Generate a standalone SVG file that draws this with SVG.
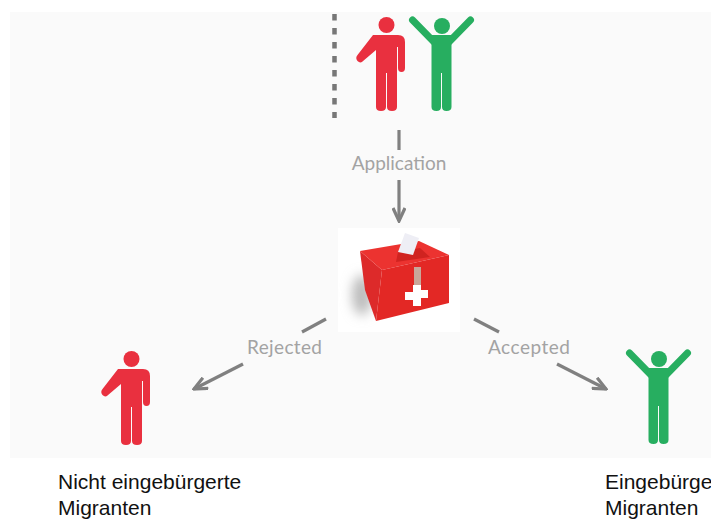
<svg xmlns="http://www.w3.org/2000/svg" width="711" height="524" viewBox="0 0 711 524">
<style>
.c{fill:none;stroke:#808080;stroke-width:3.2}
.l{font-family:Lato,"Liberation Sans",sans-serif;font-size:19px;fill:#a3a3a3;text-anchor:middle}
.t{font-family:"Liberation Sans",Arial,sans-serif;font-size:21px;fill:#111}
.r{fill:#e9303f}.g{fill:#27ae60}
.ga{fill:none;stroke:#27ae60;stroke-width:7;stroke-linecap:round}
</style>
<defs>
<marker id="a" viewBox="0 0 16 14" refX="14" refY="7" markerWidth="16" markerHeight="14" markerUnits="userSpaceOnUse" orient="auto"><path d="M1 1L14 7L1 13" fill="none" stroke="#808080" stroke-width="3.200"/></marker>
<g id="redman">
<circle class="r" cx="386.5" cy="25" r="8"/>
<path class="r" d="M373 35H398Q405 35 405 42V68Q405 72 401.500 72Q398 72 398 68V47H397V107Q397 111 392 111Q387 111 387 107V73H386V107Q386 111 381 111Q376 111 376 107V50L362.500 61.500Q360 63.500 357.500 61Q355 58 357.500 55Z"/>
</g>
<g id="greenman">
<circle class="g" cx="442" cy="26" r="8"/>
<path class="ga" d="M412.500 20L434 42M470.500 20L449 42"/>
<path class="g" d="M431.500 35H451.500V107Q451.500 111 446.500 111Q442 111 442 107V73H441V107Q441 111 436.500 111Q431.500 111 431.500 107Z"/>
</g>
<filter id="b" x="-80%" y="-50%" width="260%" height="200%"><feGaussianBlur stdDeviation="6"/></filter>
</defs>
<rect width="711" height="524" fill="#fff"/>
<rect x="10" y="12" width="701" height="446" fill="#fafafa"/>
<g id="connectors">
<path d="M334.500 14V118" fill="none" stroke="#777" stroke-width="4.500" stroke-dasharray="6.500 7.500"/>
<path class="c" d="M399 130V150"/>
<path class="c" d="M399 180V221" marker-end="url(#a)"/>
<path class="c" d="M326 319L302 332"/>
<path class="c" d="M243 364L194 389" marker-end="url(#a)"/>
<path class="c" d="M474 319L499 332"/>
<path class="c" d="M557 364L606 389" marker-end="url(#a)"/>
</g>
<g id="top-figures">
<use href="#redman"/>
<use href="#greenman"/>
</g>
<g id="ballot-box">
<rect x="338" y="228" width="122" height="104" fill="#fff"/>
<ellipse cx="362" cy="295" rx="10" ry="20" fill="#bbb" filter="url(#b)"/>
<path d="M360 251L382 270L376 321L365 290Z" fill="#dd2a2a"/>
<path d="M360 251L419 241L449 255L382 270Z" fill="#ec3330"/>
<path d="M398 252L420 248L430 257L396 262Z" fill="#d02320"/>
<path d="M382 270L449 255V303L376 321Z" fill="#e32825"/>
<path d="M405 233L419 238L413 255L398 252Z" fill="#eeeef5"/>
<path d="M414 267H421V285H414Z" fill="#c9a79a"/>
<path d="M413 285H421V290H428V298H421V306H413V300H405V292H413Z" fill="#fff"/>
</g>
<g id="rejected-figure"><use href="#redman" x="-255" y="334"/></g>
<g id="accepted-figure"><use href="#greenman" x="217" y="333"/></g>
<g id="labels">
<text class="l" x="399" y="170">Application</text>
<text class="l" x="284.500" y="354" textLength="75">Rejected</text>
<text class="l" x="529" y="354" textLength="82">Accepted</text>
</g>
<g id="rejected-caption" class="t"><text x="58" y="489">Nicht eingebürgerte</text><text x="58" y="515">Migranten</text></g>
<g id="accepted-caption" class="t"><text x="605" y="489">Eingebürge</text><text x="605" y="515">Migranten</text></g>
</svg>
